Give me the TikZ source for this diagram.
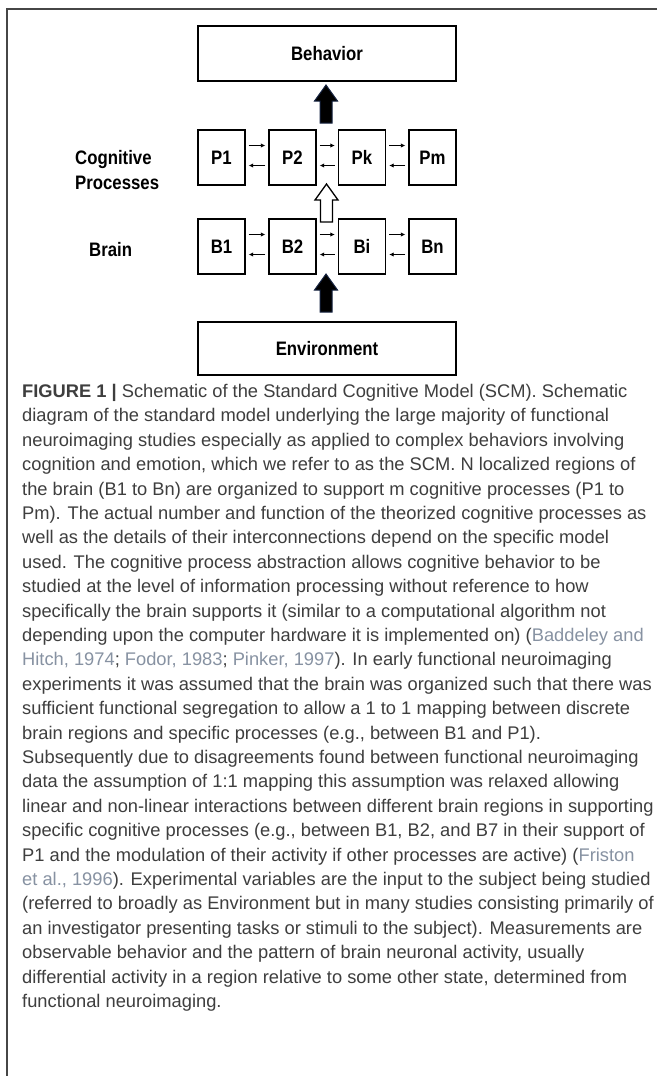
\documentclass[tikz,border=0pt]{standalone}
\usepackage{fontspec}
\setmainfont{Liberation Sans}
\newfontfamily\diagfont[FakeStretch=0.86]{Liberation Sans}
\usetikzlibrary{arrows.meta}
\definecolor{captxt}{RGB}{62,62,62}
\definecolor{citec}{RGB}{135,146,162}
\definecolor{framec}{RGB}{70,70,70}
\definecolor{navy}{RGB}{22,36,66}
\newcommand{\cit}[1]{\textcolor{citec}{#1}}
\begin{document}
\begin{tikzpicture}[x=1pt,y=-1pt,
  boxn/.style={draw=black, line width=1.4pt, minimum width=47pt, minimum height=55pt, inner sep=0pt, font=\diagfont\bfseries\fontsize{19.5}{19.5}\selectfont},
  widebox/.style={draw=black, line width=1.4pt, minimum width=258pt, minimum height=55pt, inner sep=0pt, font=\diagfont\bfseries\fontsize{19.5}{19.5}\selectfont},
  sidelabel/.style={anchor=west, align=left, inner sep=0pt, font=\diagfont\bfseries\fontsize{19.5}{25}\selectfont},
  smarrow/.style={line width=1pt, -{Latex[length=4.5pt,width=4.5pt]}},
  bigup/.pic={\path[pic actions] (-6,0) -- (-6,-22) -- (-11.5,-22) -- (0,-38) -- (11.5,-22) -- (6,-22) -- (6,0) -- cycle;},
  captionstyle/.style={anchor=north west, align=left, inner sep=0pt, text=captxt, font=\fontsize{18.3}{24.4}\selectfont}
]
\useasboundingbox (0,0) rectangle (657,1076);
\fill[white] (0,0) rectangle (657,1076);
\draw[framec, line width=1.5pt] (657,9) -- (7,9) -- (7,1076);

% boxes
\node[widebox] (beh) at (327,53.5) {Behavior};
\node[boxn] (P1) at (221.5,157.5) {P1};
\node[boxn] (P2) at (292.5,157.5) {P2};
\node[boxn] (Pk) at (362,157.5) {Pk};
\node[boxn] (Pm) at (432.5,157.5) {Pm};
\node[boxn] (B1) at (221.5,246.5) {B1};
\node[boxn] (B2) at (292.5,246.5) {B2};
\node[boxn] (Bi) at (362,246.5) {Bi};
\node[boxn] (Bn) at (432.5,246.5) {Bn};
\node[widebox, minimum height=53pt] (env) at (327,348.5) {Environment};

% side labels
\node[sidelabel] (cog) at (75,170.5) {Cognitive\\Processes};
\node[sidelabel] (brain) at (89,250) {Brain};

% small arrows
\foreach \a/\b in {P1/P2,P2/Pk,Pk/Pm,B1/B2,B2/Bi,Bi/Bn}{
  \draw[smarrow] ([shift={(3,-12)}]\a.east) -- ([shift={(-3,-12)}]\b.west);
  \draw[smarrow] ([shift={(-3,8)}]\b.west) -- ([shift={(3,8)}]\a.east);
}

% big arrows
\pic[fill=black, draw=navy, line width=1pt] at (326,123) {bigup};
\pic[fill=white, draw=black, line width=1.3pt] at (326.5,222) {bigup};
\pic[fill=black, draw=navy, line width=1pt] at (326,312) {bigup};

% caption
\node[captionstyle] (cap) at (22,384) {%
\textbf{FIGURE 1 |} Schematic of the Standard Cognitive Model (SCM). Schematic\\
diagram of the standard model underlying the large majority of functional\\
neuroimaging studies especially as applied to complex behaviors involving\\
cognition and emotion, which we refer to as the SCM. N localized regions of\\
the brain (B1 to Bn) are organized to support m cognitive processes (P1 to\\
Pm). The actual number and function of the theorized cognitive processes as\\
well as the details of their interconnections depend on the specific model\\
used. The cognitive process abstraction allows cognitive behavior to be\\
studied at the level of information processing without reference to how\\
specifically the brain supports it (similar to a computational algorithm not\\
depending upon the computer hardware it is implemented on) (\cit{Baddeley and}\\
\cit{Hitch, 1974}; \cit{Fodor, 1983}; \cit{Pinker, 1997}). In early functional neuroimaging\\
experiments it was assumed that the brain was organized such that there was\\
sufficient functional segregation to allow a 1 to 1 mapping between discrete\\
brain regions and specific processes (e.g., between B1 and P1).\\
Subsequently due to disagreements found between functional neuroimaging\\
data the assumption of 1:1 mapping this assumption was relaxed allowing\\
linear and non-linear interactions between different brain regions in supporting\\
specific cognitive processes (e.g., between B1, B2, and B7 in their support of\\
P1 and the modulation of their activity if other processes are active) (\cit{Friston}\\
\cit{et al., 1996}). Experimental variables are the input to the subject being studied\\
(referred to broadly as Environment but in many studies consisting primarily of\\
an investigator presenting tasks or stimuli to the subject). Measurements are\\
observable behavior and the pattern of brain neuronal activity, usually\\
differential activity in a region relative to some other state, determined from\\
functional neuroimaging.};
\end{tikzpicture}
\end{document}
